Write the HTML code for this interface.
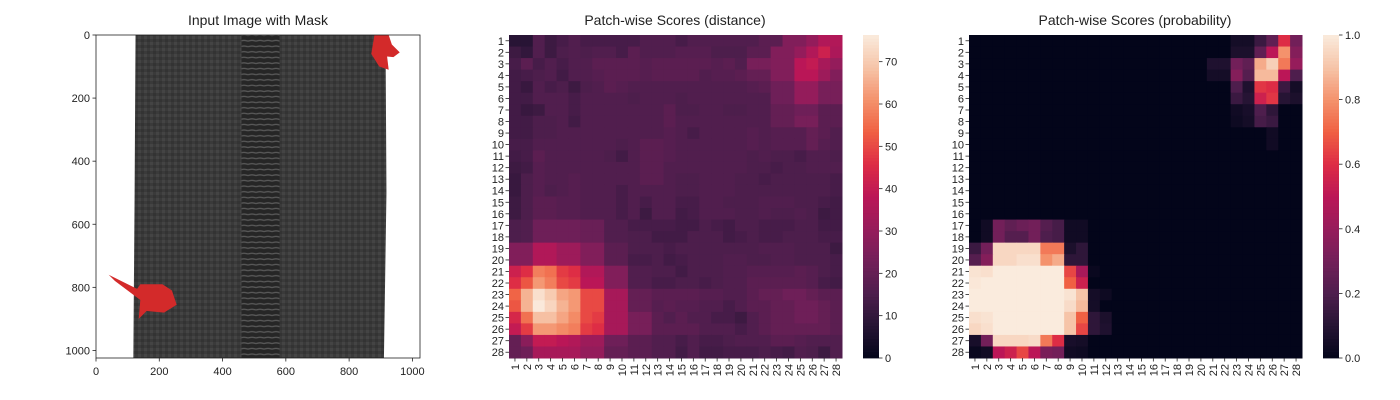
<!DOCTYPE html>
<html><head><meta charset="utf-8">
<style>
body{margin:0;background:#fff;}
svg{display:block;font-family:"Liberation Sans",Arial,sans-serif;}
</style></head>
<body>
<svg id="fig" width="1400" height="400" viewBox="0 0 1400 400">
<rect width="1400" height="400" fill="#fff"/>
</svg>
<script>
// ===== data =====
const rowLabels = Array.from({length:28},(_,i)=>String(i+1));
const colLabels = Array.from({length:28},(_,i)=>String(i+1));
const distTicks = [0,10,20,30,40,50,60,70];
const probTicks = [0,0.2,0.4,0.6,0.8,1.0];
const imgTicks = [0,200,400,600,800,1000];
const distVmax = 76.3;
const probVmax = 1.0;
const distRows = [
[8,8,16,12,14,16,14,14,14,14,14,16,16,16,14,16,16,16,16,16,16,18,18,26,26,30,36,36],
[12,10,16,12,15,16,15,16,16,14,18,16,16,16,17,17,17,15,15,15,18,18,26,26,30,36,42,35],
[14,18,14,16,14,16,16,18,18,18,18,17,18,18,18,18,18,17,18,16,24,24,26,26,38,40,34,30],
[13,14,15,16,13,16,16,17,18,18,18,17,18,18,18,18,16,17,17,18,20,20,26,26,38,38,32,26],
[13,11,16,14,15,12,15,16,18,17,16,16,16,16,16,16,16,16,16,16,17,18,22,22,30,30,24,24],
[13,13,16,16,16,14,16,16,16,16,15,16,16,16,15,16,16,16,16,16,16,16,22,22,30,30,24,24],
[13,11,12,16,16,14,16,16,16,16,16,16,16,18,15,15,16,16,15,15,16,16,20,20,22,22,18,18],
[13,13,15,15,16,13,16,16,16,16,16,16,16,18,16,16,16,16,16,16,16,16,20,20,24,24,18,18],
[13,13,15,15,16,16,16,16,16,16,16,16,16,17,16,14,16,16,16,16,17,16,17,17,17,20,18,16],
[14,14,16,16,16,16,16,16,16,15,16,18,18,17,16,16,16,16,16,16,17,16,17,17,17,20,17,16],
[13,14,18,16,16,16,16,16,15,13,16,18,18,17,16,16,16,16,16,16,15,16,15,15,14,16,16,15],
[12,13,17,16,16,16,16,16,16,16,16,18,18,16,16,16,16,16,16,16,15,15,14,15,15,16,16,16],
[11,15,17,16,16,17,16,16,16,16,16,18,18,16,15,15,16,16,16,15,15,14,15,15,15,15,15,14],
[11,15,17,15,16,17,16,16,16,14,16,16,16,16,15,15,16,16,16,15,15,15,15,15,15,15,15,14],
[12,15,18,18,17,17,16,16,16,14,16,14,16,16,14,14,16,16,15,15,15,16,16,16,15,15,14,13],
[12,15,18,18,17,17,16,16,16,14,16,12,16,16,13,14,16,16,16,15,15,16,15,15,16,15,12,13],
[15,16,22,22,22,22,21,21,16,16,14,14,14,14,13,13,15,14,13,15,15,14,14,14,15,15,13,13],
[15,16,22,22,22,22,21,21,16,16,15,15,13,13,13,15,15,15,13,14,15,14,14,15,15,15,14,14],
[26,26,36,36,32,32,26,26,18,18,15,15,15,14,15,15,15,15,15,15,15,16,16,16,15,15,15,12],
[26,26,36,36,32,32,26,26,18,18,14,14,15,13,14,15,15,15,16,16,15,15,16,16,15,15,15,14],
[42,46,58,56,48,46,36,36,26,26,16,16,15,15,13,15,15,15,16,16,17,17,17,17,18,17,15,14],
[46,52,62,58,50,48,38,38,26,26,16,16,14,14,15,15,14,15,16,16,18,18,18,18,18,17,14,13],
[54,66,74,70,64,62,50,50,34,34,20,20,18,18,18,18,17,17,16,16,18,20,20,22,22,20,18,18],
[52,66,76,72,66,62,50,50,34,34,20,20,17,18,17,17,16,16,14,16,18,18,20,20,22,22,20,18],
[44,56,68,68,64,60,50,48,34,34,24,24,18,16,18,16,16,14,14,12,16,18,20,20,22,22,20,18],
[40,48,62,62,60,58,48,46,34,34,24,24,18,18,18,18,16,16,16,14,16,18,20,20,20,20,20,18],
[20,28,40,40,38,36,32,32,22,22,18,18,16,16,14,16,14,14,15,16,16,16,18,18,17,16,16,16],
[20,22,34,34,34,34,30,30,20,20,18,18,16,16,13,16,13,13,14,14,14,15,14,13,16,15,12,16]
];
// sparse non-zero probability cells: [row, col, value] (1-based)
const probCells = [
[1,23,0.05],[1,24,0.05],[1,25,0.15],[1,26,0.25],[1,27,0.6],[1,28,0.3],
[2,23,0.07],[2,24,0.07],[2,25,0.25],[2,26,0.5],[2,27,0.8],[2,28,0.35],
[3,21,0.08],[3,22,0.08],[3,23,0.3],[3,24,0.25],[3,25,0.85],[3,26,0.93],[3,27,0.75],[3,28,0.4],
[4,21,0.05],[4,22,0.05],[4,23,0.35],[4,24,0.22],[4,25,0.88],[4,26,0.88],[4,27,0.5],[4,28,0.2],
[5,23,0.2],[5,24,0.08],[5,25,0.62],[5,26,0.6],[5,27,0.15],[5,28,0.05],
[6,23,0.15],[6,24,0.1],[6,25,0.55],[6,26,0.62],[6,27,0.1],[6,28,0.07],
[7,23,0.04],[7,24,0.06],[7,25,0.2],[7,26,0.12],
[8,23,0.03],[8,24,0.05],[8,25,0.18],[8,26,0.15],
[9,26,0.04],[10,26,0.04],
[17,2,0.04],[17,3,0.3],[17,4,0.25],[17,5,0.28],[17,6,0.3],[17,7,0.22],[17,8,0.18],[17,9,0.04],[17,10,0.04],
[18,2,0.04],[18,3,0.3],[18,4,0.22],[18,5,0.22],[18,6,0.3],[18,7,0.2],[18,8,0.18],[18,9,0.04],[18,10,0.04],
[19,1,0.15],[19,2,0.3],[19,3,0.95],[19,4,0.95],[19,5,0.95],[19,6,0.95],[19,7,0.75],[19,8,0.75],[19,9,0.07],[19,10,0.12],
[20,1,0.22],[20,2,0.35],[20,3,0.95],[20,4,0.95],[20,5,0.97],[20,6,0.97],[20,7,0.8],[20,8,0.85],[20,9,0.12],[20,10,0.12],
[21,1,0.98],[21,2,0.97],[21,3,1],[21,4,1],[21,5,1],[21,6,1],[21,7,1],[21,8,1],[21,9,0.65],[21,10,0.45],[21,11,0.02],
[22,1,0.99],[22,2,1],[22,3,1],[22,4,1],[22,5,1],[22,6,1],[22,7,1],[22,8,1],[22,9,0.7],[22,10,0.55],
[23,1,1],[23,2,1],[23,3,1],[23,4,1],[23,5,1],[23,6,1],[23,7,1],[23,8,1],[23,9,0.98],[23,10,0.9],[23,11,0.05],[23,12,0.03],
[24,1,1],[24,2,1],[24,3,1],[24,4,1],[24,5,1],[24,6,1],[24,7,1],[24,8,1],[24,9,0.96],[24,10,0.88],[24,11,0.05],
[25,1,0.97],[25,2,0.98],[25,3,1],[25,4,1],[25,5,1],[25,6,1],[25,7,1],[25,8,1],[25,9,0.9],[25,10,0.7],[25,11,0.12],[25,12,0.07],
[26,1,0.95],[26,2,0.97],[26,3,1],[26,4,1],[26,5,1],[26,6,1],[26,7,1],[26,8,1],[26,9,0.9],[26,10,0.65],[26,11,0.12],[26,12,0.08],
[27,1,0.06],[27,2,0.3],[27,3,0.95],[27,4,0.95],[27,5,0.95],[27,6,0.96],[27,7,0.75],[27,8,0.6],[27,9,0.06],[27,10,0.05],
[28,1,0.02],[28,2,0.04],[28,3,0.5],[28,4,0.55],[28,5,0.65],[28,6,0.5],[28,7,0.32],[28,8,0.3],[28,9,0.04],[28,10,0.03]
];

// ===== helpers =====
const NS='http://www.w3.org/2000/svg';
const svg=document.getElementById('fig');
function mk(tag,attrs,parent){const e=document.createElementNS(NS,tag);for(const k in attrs)e.setAttribute(k,attrs[k]);(parent||svg).appendChild(e);return e;}
const stops=[[0,[3,5,26]],[0.1,[38,20,52]],[0.2,[78,30,77]],[0.3,[114,31,89]],[0.4,[150,28,91]],[0.5,[187,22,87]],[0.6,[221,44,69]],[0.7,[240,96,67]],[0.8,[244,146,108]],[0.9,[246,196,168]],[1,[250,235,221]]];
function rocket(t){t=Math.max(0,Math.min(1,t));for(let i=1;i<stops.length;i++){if(t<=stops[i][0]){const a=stops[i-1],b=stops[i];const f=(t-a[0])/(b[0]-a[0]);const c=a[1].map((v,j)=>Math.round(v+(b[1][j]-v)*f));return `rgb(${c[0]},${c[1]},${c[2]})`;}}return 'rgb(250,235,221)';}
function title(x,txt,name){const t=mk('text',{x:x,y:25,'text-anchor':'middle','font-size':14,fill:'#222'});t.textContent=txt;}

// ===== heatmap =====
function heatmap(x0,x1,y0,y1,getVal,vmax,name){
  const g=mk('g',{});
  
  
  const n=28,cw=(x1-x0)/n,ch=(y1-y0)/n;
  const xs=c=>x0+c*cw, ys=r=>y0+r*ch;
  for(let r=0;r<n;r++)for(let c=0;c<n;c++){
    const rect=mk('rect',{x:xs(c),y:ys(r),width:cw+0.5,height:ch+0.5,fill:rocket(getVal(r,c)/vmax)},g);
    
    
  }
  for(let r=0;r<n;r++){
    const y=ys(r)+ch/2;
    mk('line',{x1:x0-3.5,x2:x0,y1:y,y2:y,stroke:'#222','stroke-width':0.8},g);
    const t=mk('text',{x:x0-5,y:y+4,'text-anchor':'end','font-size':11,fill:'#222'},g);
    t.textContent=rowLabels[r];
    
    
  }
  for(let c=0;c<n;c++){
    const x=xs(c)+cw/2;
    mk('line',{x1:x,x2:x,y1:y1,y2:y1+3.5,stroke:'#222','stroke-width':0.8},g);
    const t=mk('text',{x:0,y:0,'text-anchor':'end','font-size':11,fill:'#222',transform:`translate(${x+4},${y1+6}) rotate(-90)`},g);
    t.textContent=colLabels[c];
    
    
  }
}
function colorbar(x0,x1,y0,y1,ticks,vmax,fmt,name){
  const g=mk('g',{});
  
  
  const steps=100,h=(y1-y0)/steps;
  for(let i=0;i<steps;i++){mk('rect',{x:x0,y:y1-(i+1)*h,width:x1-x0,height:h+0.4,fill:rocket((i+0.5)/steps)},g);}
  ticks.forEach(v=>{
    const y=y1-(v/vmax)*(y1-y0);
    mk('line',{x1:x1,x2:x1+3.5,y1:y,y2:y,stroke:'#222','stroke-width':0.8},g);
    const t=mk('text',{x:x1+6,y:y+4,'font-size':11,fill:'#222'},g);
    t.textContent=fmt(v);
    
    
  });
}

// ===== left image panel =====
(function(){
  const X0=96,X1=420,Y0=35,Y1=358,ext=1024;
  const sx=v=>X0+v*(X1-X0)/ext, sy=v=>Y0+v*(Y1-Y0)/ext;
  const g=mk('g',{});
  
  
  const defs=mk('defs',{},g);
  const pat=mk('pattern',{id:'weave',width:6,height:6,patternUnits:'userSpaceOnUse'},defs);
  mk('rect',{width:6,height:6,fill:'#3a3a3a'},pat);
  mk('rect',{width:3,height:3,fill:'#444'},pat);
  mk('rect',{x:3,y:3,width:3,height:3,fill:'#333'},pat);
  const pat2=mk('pattern',{id:'teeth',width:8,height:5.6,patternUnits:'userSpaceOnUse'},defs);
  mk('rect',{width:8,height:5.6,fill:'#262626'},pat2);
  mk('path',{d:'M0 2 Q4 0.5 8 2',stroke:'#5a5a5a','stroke-width':1.3,fill:'none'},pat2);
  mk('rect',{x:X0,y:Y0,width:X1-X0,height:Y1-Y0,fill:'#fff'},g);
  mk('path',{d:`M${sx(125)} ${Y0} L${sx(915)} ${Y0} L${sx(918)} ${sy(500)} L${sx(910)} ${Y1} L${sx(118)} ${Y1} L${sx(122)} ${sy(500)} Z`,fill:'url(#weave)'},g);
  mk('rect',{x:sx(460),y:Y0,width:sx(580)-sx(460),height:Y1-Y0,fill:'url(#teeth)'},g);
  const m1=mk('path',{d:`M${sx(880)} ${sy(0)} L${sx(925)} ${sy(0)} L${sx(935)} ${sy(30)} L${sx(960)} ${sy(55)} L${sx(940)} ${sy(70)} L${sx(920)} ${sy(68)} L${sx(925)} ${sy(110)} L${sx(895)} ${sy(100)} L${sx(870)} ${sy(60)} Z`,fill:'#d32a2a'},g);
  
  
  const m2=mk('path',{d:`M${sx(40)} ${sy(760)} L${sx(130)} ${sy(805)} L${sx(140)} ${sy(790)} L${sx(210)} ${sy(790)} L${sx(240)} ${sy(810)} L${sx(255)} ${sy(855)} L${sx(215)} ${sy(880)} L${sx(160)} ${sy(875)} L${sx(135)} ${sy(900)} L${sx(140)} ${sy(840)} L${sx(60)} ${sy(780)} Z`,fill:'#d32a2a'},g);
  
  
  mk('rect',{x:X0,y:Y0,width:X1-X0,height:Y1-Y0,fill:'none',stroke:'#222','stroke-width':0.8},g);
  imgTicks.forEach(v=>{
    mk('line',{x1:sx(v),x2:sx(v),y1:Y1,y2:Y1+3.5,stroke:'#222','stroke-width':0.8},g);
    const t=mk('text',{x:sx(v),y:Y1+17,'text-anchor':'middle','font-size':11,fill:'#222'},g);
    t.textContent=v;
    
    
    mk('line',{x1:X0-3.5,x2:X0,y1:sy(v),y2:sy(v),stroke:'#222','stroke-width':0.8},g);
    const t2=mk('text',{x:X0-6,y:sy(v)+4,'text-anchor':'end','font-size':11,fill:'#222'},g);
    t2.textContent=v;
    
    
  });
})();
title(258,'Input Image with Mask','left-title');

// ===== middle: distance =====
heatmap(509,842,35,358,(r,c)=>distRows[r][c],distVmax,'distance-heatmap');
colorbar(863,879,35,358,distTicks,distVmax,v=>String(v),'distance-colorbar');
title(675,'Patch-wise Scores (distance)','middle-title');

// ===== right: probability =====
const probGrid=Array.from({length:28},()=>new Array(28).fill(0));
probCells.forEach(([r,c,v])=>{probGrid[r-1][c-1]=v;});
heatmap(969,1302,35,358,(r,c)=>probGrid[r][c],probVmax,'probability-heatmap');
colorbar(1323,1339,35,358,probTicks,probVmax,v=>v.toFixed(1),'probability-colorbar');
title(1135,'Patch-wise Scores (probability)','right-title');
</script>
</body></html>
